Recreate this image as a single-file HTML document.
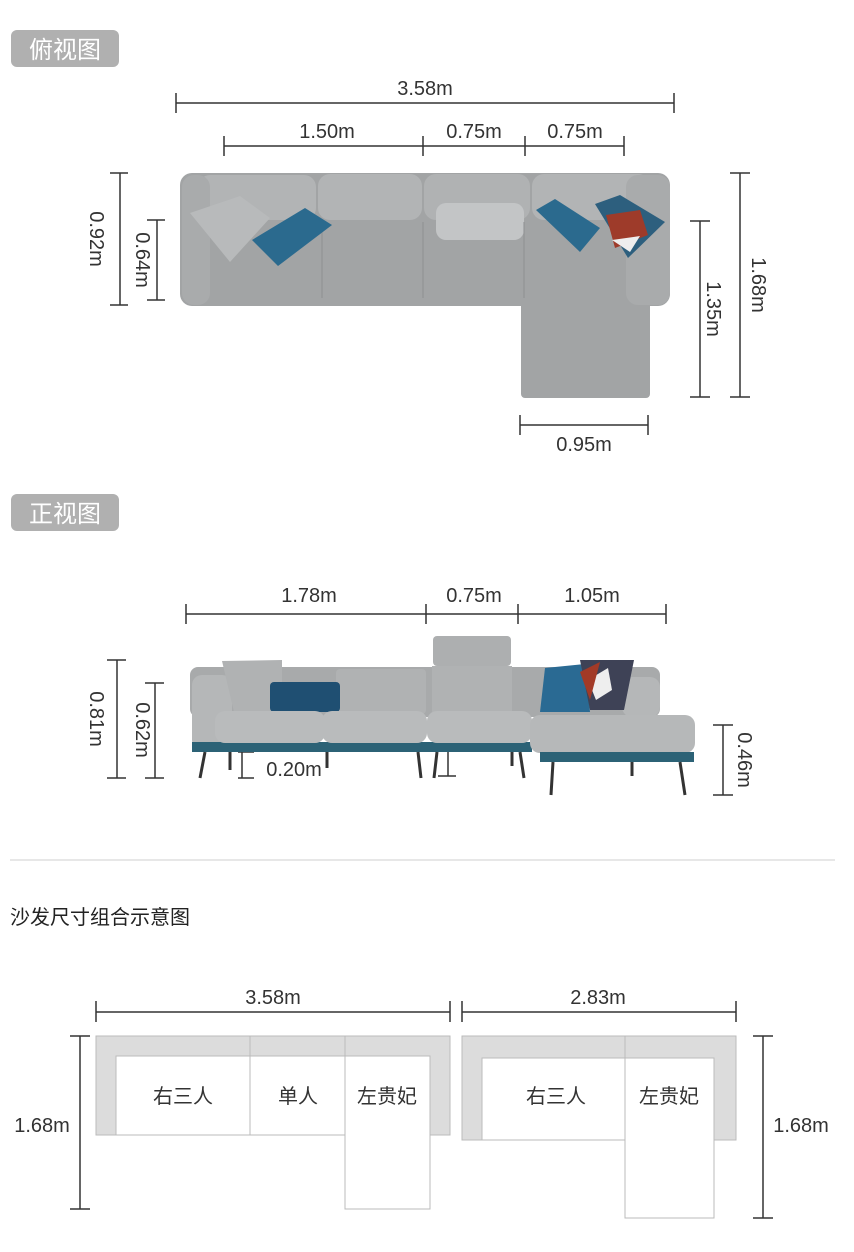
<!DOCTYPE html>
<html><head><meta charset="utf-8"><style>
html,body{margin:0;padding:0;background:#fff;}
svg text{font-family:"Liberation Sans","Noto Sans CJK SC",sans-serif;fill:#333;}
</style></head><body>
<svg width="854" height="1247" viewBox="0 0 854 1247" xmlns="http://www.w3.org/2000/svg">
<g stroke="#333" stroke-width="1.5" fill="none">
<path d="M176 103H674M176 93V113M674 93V113"/>
<path d="M224 146H624M224 136V156M423 136V156M525 136V156M624 136V156"/>
<path d="M120 173V305M110 173H128M110 305H128"/>
<path d="M157 220V300M147 220H165M147 300H165"/>
<path d="M700 221V397M690 221H710M690 397H710"/>
<path d="M740 173V397M730 173H750M730 397H750"/>
<path d="M520 425H648M520 415V435M648 415V435"/>
<path d="M186 614H666M186 604V624M426 604V624M518 604V624M666 604V624"/>
<path d="M117 660V778M107 660H126M107 778H126"/>
<path d="M155 683V778M145 683H164M145 778H164"/>
<path d="M242 752V778M238 752H254M238 778H254"/>
<path d="M448 637V776M438 637H456M438 776H456"/>
<path d="M723 725V795M713 725H733M713 795H733"/>
<path d="M96 1012H450M96 1001V1022M450 1001V1022"/>
<path d="M462 1012H736M462 1001V1022M736 1001V1022"/>
<path d="M80 1036V1209M70 1036H90M70 1209H90"/>
<path d="M763 1036V1218M753 1036H773M753 1218H773"/>
</g>
<rect x="11" y="30" width="108" height="37" rx="6" fill="#b0b0b0"/>
<text x="65" y="58" font-size="24" text-anchor="middle" style="fill:#fff">俯视图</text>
<rect x="11" y="494" width="108" height="37" rx="6" fill="#b0b0b0"/>
<text x="65" y="522" font-size="24" text-anchor="middle" style="fill:#fff">正视图</text>
<g font-size="20" text-anchor="middle">
<text x="425" y="95">3.58m</text>
<text x="327" y="138">1.50m</text>
<text x="474" y="138">0.75m</text>
<text x="575" y="138">0.75m</text>
<text x="584" y="451">0.95m</text>
<text transform="translate(90,239) rotate(90)">0.92m</text>
<text transform="translate(136,260) rotate(90)">0.64m</text>
<text transform="translate(707,309) rotate(90)">1.35m</text>
<text transform="translate(752,285) rotate(90)">1.68m</text>
<text x="309" y="602">1.78m</text>
<text x="474" y="602">0.75m</text>
<text x="592" y="602">1.05m</text>
<text transform="translate(90,719) rotate(90)">0.81m</text>
<text transform="translate(136,730) rotate(90)">0.62m</text>
<text x="294" y="776">0.20m</text>
<text x="478" y="704">1.00m</text>
<text transform="translate(738,760) rotate(90)">0.46m</text>
<text x="273" y="1004">3.58m</text>
<text x="598" y="1004">2.83m</text>
<text x="42" y="1132">1.68m</text>
<text x="801" y="1132">1.68m</text>
</g>
<g>
<rect x="180" y="173" width="490" height="133" rx="12" fill="#a2a4a5"/>
<rect x="521" y="290" width="129" height="108" rx="4" fill="#a2a4a5"/>
<rect x="198" y="175" width="118" height="45" rx="12" fill="#b2b4b5"/>
<rect x="318" y="174" width="104" height="46" rx="12" fill="#b2b4b5"/>
<rect x="424" y="174" width="106" height="46" rx="12" fill="#b0b2b3"/>
<rect x="532" y="174" width="118" height="46" rx="12" fill="#b2b4b5"/>
<rect x="182" y="175" width="28" height="130" rx="12" fill="#a9abac"/>
<rect x="626" y="175" width="44" height="130" rx="12" fill="#a9abac"/>
<rect x="436" y="203" width="88" height="37" rx="10" fill="#c3c5c6"/>
<path d="M322 222V298M423 222V298M524 222V298" stroke="#8e9091" stroke-width="1"/>
<polygon points="190,213 240,196 270,218 230,262" fill="#b8babb"/>
<polygon points="252,240 305,208 332,225 278,266" fill="#2b6a8e"/>
<polygon points="536,210 555,199 600,228 580,252" fill="#2b6a8e"/>
<polygon points="595,204 620,195 665,222 628,258" fill="#2d5f7e"/>
<polygon points="606,215 640,210 648,235 615,248" fill="#9e3b2a"/>
<polygon points="612,240 640,236 630,252" fill="#eee"/>
</g>
<g>
<rect x="190" y="667" width="470" height="50" rx="8" fill="#a8aaab"/>
<rect x="433" y="636" width="78" height="30" rx="4" fill="#adafb0"/>
<rect x="432" y="666" width="80" height="46" fill="#b0b2b3"/>
<rect x="336" y="669" width="90" height="45" rx="4" fill="#b0b2b3"/>
<rect x="192" y="675" width="40" height="75" rx="10" fill="#b5b7b8"/>
<rect x="622" y="677" width="38" height="40" rx="10" fill="#b5b7b8"/>
<polygon points="222,661 282,660 282,712 234,712" fill="#b0b2b3"/>
<rect x="270" y="682" width="70" height="30" rx="4" fill="#1f4f72"/>
<polygon points="545,668 585,664 590,712 540,712" fill="#2a6a93"/>
<polygon points="580,660 634,660 624,710 590,710" fill="#3e4256"/>
<polygon points="588,680 608,668 612,690 596,700" fill="#eee"/>
<polygon points="580,672 600,662 590,700" fill="#a23a27"/>
<rect x="192" y="742" width="340" height="10" fill="#2c6276"/>
<rect x="215" y="711" width="110" height="32" rx="10" fill="#b9bbbc"/>
<rect x="322" y="711" width="105" height="32" rx="10" fill="#b9bbbc"/>
<rect x="427" y="711" width="105" height="32" rx="10" fill="#b9bbbc"/>
<rect x="530" y="715" width="165" height="38" rx="10" fill="#b6b8b9"/>
<rect x="540" y="752" width="154" height="10" fill="#2c6276"/>
<g stroke="#333" stroke-width="3">
<path d="M205 752L200 778M230 752V770M327 752V768M418 752L421 778M437 752L434 778M512 752V766M520 752L524 778M553 762L551 795M632 762V776M680 762L685 795"/>
</g>
</g>
<line x1="10" y1="860" x2="835" y2="860" stroke="#cfcfcf" stroke-width="1"/>
<text x="10" y="924" font-size="20" style="fill:#222">沙发尺寸组合示意图</text>
<g stroke="#bbb" stroke-width="1" fill="#fff">
<rect x="96" y="1036" width="354" height="99" fill="#dcdcdc"/>
<rect x="116" y="1056" width="314" height="79"/>
<rect x="345" y="1056" width="85" height="153"/>
<path d="M250 1036V1135M345 1036V1056"/>
<rect x="462" y="1036" width="274" height="104" fill="#dcdcdc"/>
<rect x="482" y="1058" width="232" height="82"/>
<rect x="625" y="1058" width="89" height="160"/>
<path d="M625 1036V1058"/>
</g>
<g font-size="20" text-anchor="middle">
<text x="183" y="1103">右三人</text>
<text x="298" y="1103">单人</text>
<text x="387" y="1103">左贵妃</text>
<text x="556" y="1103">右三人</text>
<text x="669" y="1103">左贵妃</text>
</g>
</svg>
</body></html>
